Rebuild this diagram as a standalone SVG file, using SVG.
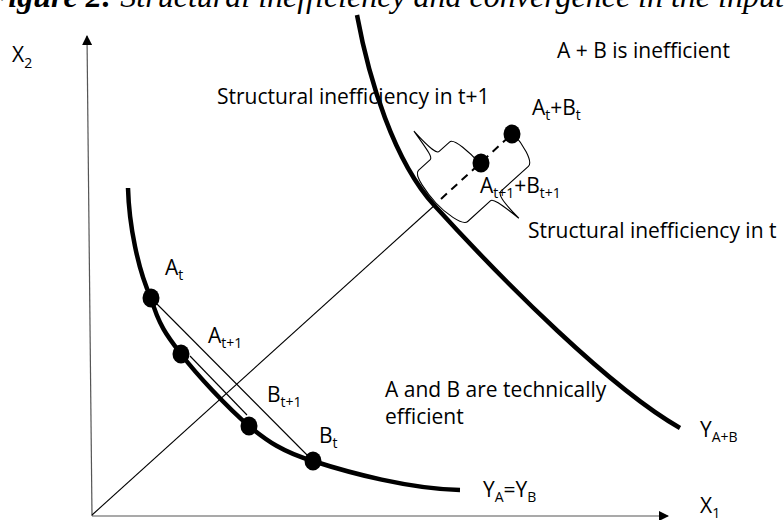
<svg xmlns="http://www.w3.org/2000/svg" width="784" height="520" viewBox="0 0 784 520">
<defs>
<style>
.t{font-family:"Open Sans","Liberation Sans",sans-serif;font-size:21px;fill:#000}
.s{font-size:14px}
.title{font-family:"Liberation Serif",serif;font-style:italic;font-size:32px;fill:#000}
.thin{fill:none;stroke:#000;stroke-width:1.1}
.thick{fill:none;stroke:#000;stroke-width:4.5}
.axis{fill:none;stroke:#555;stroke-width:1.2}
.dot{fill:#000}
</style>
<marker id="ah" viewBox="0 0 10 10" refX="9" refY="5" markerWidth="10" markerHeight="10" markerUnits="userSpaceOnUse" orient="auto">
<path d="M0,0 L10,5 L0,10 z" fill="#000"/>
</marker>
</defs>
<rect width="784" height="520" fill="#fff"/>
<text class="title" x="-13" y="7"><tspan font-weight="bold">Figure 2:</tspan> Structural inefficiency and convergence in the input</text>

<g id="axes">
<line class="axis" x1="92" y1="516" x2="87" y2="36" marker-end="url(#ah)"/>
<line class="axis" x1="92" y1="516" x2="668" y2="516" marker-end="url(#ah)"/>
<text class="t" x="12" y="62">X<tspan class="s" dy="6">2</tspan></text>
<text class="t" x="700" y="513">X<tspan class="s" dy="5">1</tspan></text>
</g>

<g id="connectors">
<line class="thin" x1="92" y1="515" x2="436" y2="204"/>
<line x1="441" y1="199" x2="512" y2="134" stroke="#000" stroke-width="2" stroke-dasharray="8 6"/>
<line class="thin" x1="151" y1="298" x2="313" y2="461"/>
<line class="thin" x1="190" y1="356" x2="247" y2="415"/>
<path class="thin" d="M0,0 C0,12 2,36 9,36 L25,36 C28,36 29,42 32,68 C32,42 34,36 37,36 L51,36 C57,36 59,14 59,0" transform="matrix(0.740,-0.673,-0.673,-0.740,436,203)"/>
<path class="thin" d="M0,0 C0,12 4,35 11,35 L42,35 C45,35 47,42 51,67 C50,42 52,35 56,35 L93,35 C100,35 104,14 104,0" transform="matrix(0.740,-0.673,0.673,0.740,436,203)"/>
</g>

<g id="curve-YAB">
<path class="thick" d="M357,15 C369,80 394,161 434,205 C505,283 610,388 680,428"/>
<text class="t" x="700" y="437">Y<tspan class="s" dy="5">A+B</tspan></text>
</g>

<g id="curve-YA">
<path class="thick" d="M128,188 C129,225 138,270 151,298 C159,326 168,337 181,354 C197,375 227,407 249,426 C267,441 283,452 313,461 C350,473 410,489 460,490"/>
<text class="t" x="483" y="497">Y<tspan class="s" dy="5">A</tspan><tspan dy="-5">=Y</tspan><tspan class="s" dy="5">B</tspan></text>
</g>

<g id="At"><ellipse class="dot" cx="151" cy="298" rx="8.5" ry="9.5"/><text class="t" x="165" y="275">A<tspan class="s" dy="5">t</tspan></text></g>
<g id="At1"><ellipse class="dot" cx="181" cy="354" rx="8.5" ry="9.5"/><text class="t" x="208" y="343">A<tspan class="s" dy="5">t+1</tspan></text></g>
<g id="Bt1"><ellipse class="dot" cx="249" cy="426" rx="8.5" ry="9.5"/><text class="t" x="267" y="402">B<tspan class="s" dy="5">t+1</tspan></text></g>
<g id="Bt"><ellipse class="dot" cx="313" cy="461" rx="8.5" ry="9.5"/><text class="t" x="319" y="443">B<tspan class="s" dy="5">t</tspan></text></g>
<g id="AtBt"><ellipse class="dot" cx="512" cy="134" rx="8.5" ry="9.5"/><text class="t" x="532" y="115">A<tspan class="s" dy="5">t</tspan><tspan dy="-5">+B</tspan><tspan class="s" dy="5">t</tspan></text></g>
<g id="At1Bt1"><ellipse class="dot" cx="481" cy="163" rx="8.5" ry="9.5"/><text class="t" x="480" y="193">A<tspan class="s" dy="5">t+1</tspan><tspan dy="-5">+B</tspan><tspan class="s" dy="5">t+1</tspan></text></g>

<g id="labels">
<text class="t" x="557" y="58">A + B is inefficient</text>
<text class="t" x="217" y="104">Structural inefficiency in t+1</text>
<text class="t" x="528" y="238" font-size="21.5">Structural inefficiency in t</text>
<text class="t" x="385" y="397">A and B are technically</text>
<text class="t" x="385" y="424">efficient</text>
</g>
</svg>
